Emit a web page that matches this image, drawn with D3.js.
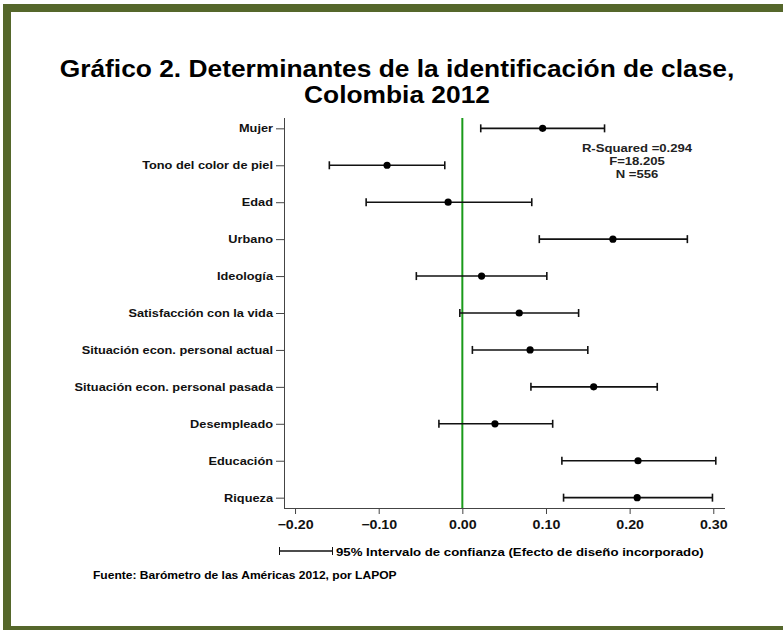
<!DOCTYPE html>
<html>
<head>
<meta charset="utf-8">
<script src="https://cdnjs.cloudflare.com/ajax/libs/d3/7.8.5/d3.min.js"></script>
<style>
  body { margin: 0; background: #fff; }
  svg { display: block; font-family: "Liberation Sans", Arial, sans-serif; }
</style>
</head>
<body>
<div id="grafico"></div>
<script>
var variables = ["Mujer", "Tono del color de piel", "Edad", "Urbano", "Ideología", "Satisfacción con la vida",
    "Situación econ. personal actual", "Situación econ. personal pasada", "Desempleado", "Educación", "Riqueza"]
var coeficientes = [0.096, -0.090, -0.017, 0.180, 0.023, 0.068, 0.081, 0.157, 0.039, 0.210, 0.209]
var limInf = [0.022, -0.159, -0.115, 0.092, -0.055, -0.003, 0.012, 0.082, -0.028, 0.119, 0.121]
var limSup = [0.170, -0.021, 0.083, 0.269, 0.101, 0.139, 0.150, 0.233, 0.108, 0.303, 0.299]
var ticksX = [-0.20, -0.10, 0.00, 0.10, 0.20, 0.30]
var estadisticos = ["R-Squared =0.294", "F=18.205", "N =556"]

var width = 783,
    height = 630;

// el grafico original tiene el texto algo ensanchado
function estirar(sel, sx) {
    sel.each(function () {
        var t = d3.select(this);
        var x0 = +t.attr("x") || 0;
        t.attr("transform", "translate(" + x0 + ",0) scale(" + sx + ",1) translate(" + (-x0) + ",0)");
    });
}

var svg = d3.select("#grafico").append("svg")
    .attr("width", width)
    .attr("height", height);

// marco verde oliva
svg.append("rect").attr("x", 3).attr("y", 4).attr("width", width - 3).attr("height", 8).attr("fill", "#55672b");
svg.append("rect").attr("x", 3).attr("y", 4).attr("width", 8).attr("height", height - 4).attr("fill", "#55672b");
svg.append("rect").attr("x", 3).attr("y", 626).attr("width", width - 3).attr("height", 4).attr("fill", "#55672b");

// titulo
var titulo = svg.append("g");
titulo.append("text")
    .attr("x", 397).attr("y", 77)
    .text("Gráfico 2. Determinantes de la identificación de clase,");
titulo.append("text")
    .attr("x", 397).attr("y", 103)
    .text("Colombia 2012");
titulo.selectAll("text")
    .attr("text-anchor", "middle")
    .style("font-size", "23px").style("font-weight", "bold")
    .call(estirar, 1.145);

var x = d3.scaleLinear()
    .domain([-0.212, 0.314])
    .range([285, 725]);

var y = d3.scalePoint()
    .domain(variables)
    .range([118, 508])
    .padding(0.28);

// ejes
var ejeX = svg.append("g")
    .attr("transform", "translate(0,508)")
    .call(d3.axisBottom(x).tickValues(ticksX).tickSize(6).tickSizeOuter(0).tickFormat(d3.format(".2f")));
ejeX.selectAll("text").style("font-size", "12.3px").style("font-weight", "bold").attr("fill", "#111").attr("dy", "1em")
    .call(estirar, 1.16);

var ejeY = svg.append("g")
    .attr("transform", "translate(284,0)")
    .call(d3.axisLeft(y).tickSize(8).tickSizeOuter(0));
ejeY.selectAll("text").style("font-size", "11px").style("font-weight", "bold").attr("fill", "#111").attr("x", -11)
    .call(estirar, 1.16);

svg.selectAll(".domain, .tick line").attr("stroke", "#444");
ejeX.select(".domain").attr("d", "M284,0.5H725");
ejeY.select(".domain").attr("d", "M0.5,118V508");

// linea del cero
svg.append("line")
    .attr("x1", x(0)).attr("x2", x(0))
    .attr("y1", 118).attr("y2", 508)
    .attr("stroke", "#1a9a1a").attr("stroke-width", 2);

// intervalos de confianza
var filas = svg.append("g").selectAll("g")
    .data(variables)
    .enter().append("g");

filas.append("line")
    .attr("x1", function (d, i) { return x(limInf[i]); })
    .attr("x2", function (d, i) { return x(limSup[i]); })
    .attr("y1", function (d) { return y(d); })
    .attr("y2", function (d) { return y(d); })
    .attr("stroke", "#111").attr("stroke-width", 1.6);

filas.selectAll(".cap")
    .data(function (d, i) { return [{ v: limInf[i], n: d }, { v: limSup[i], n: d }]; })
    .enter().append("line")
    .attr("class", "cap")
    .attr("x1", function (d) { return x(d.v); })
    .attr("x2", function (d) { return x(d.v); })
    .attr("y1", function (d) { return y(d.n) - 4; })
    .attr("y2", function (d) { return y(d.n) + 4; })
    .attr("stroke", "#111").attr("stroke-width", 1.6);

filas.append("circle")
    .attr("cx", function (d, i) { return x(coeficientes[i]); })
    .attr("cy", function (d) { return y(d); })
    .attr("r", 3.6)
    .attr("fill", "#000");

// estadisticos del modelo
svg.append("g").selectAll("text")
    .data(estadisticos)
    .enter().append("text")
    .attr("x", 637)
    .attr("y", function (d, i) { return 152 + i * 13; })
    .attr("text-anchor", "middle")
    .style("font-size", "11.3px").style("font-weight", "bold")
    .attr("fill", "#222")
    .text(function (d) { return d; })
    .call(estirar, 1.16);

// leyenda
var leyenda = svg.append("g").attr("transform", "translate(0,551)");
leyenda.append("line").attr("x1", 279).attr("x2", 333).attr("y1", 0).attr("y2", 0).attr("stroke", "#111").attr("stroke-width", 1.4);
leyenda.append("line").attr("x1", 279.5).attr("x2", 279.5).attr("y1", -4).attr("y2", 4).attr("stroke", "#111");
leyenda.append("line").attr("x1", 332.5).attr("x2", 332.5).attr("y1", -4).attr("y2", 4).attr("stroke", "#111");
leyenda.append("text")
    .attr("x", 336).attr("y", 4.5)
    .style("font-size", "11.4px").style("font-weight", "bold")
    .text("95% Intervalo de confianza (Efecto de diseño incorporado)")
    .call(estirar, 1.16);

svg.append("text")
    .attr("x", 93).attr("y", 579)
    .style("font-size", "10.4px").style("font-weight", "bold")
    .text("Fuente: Barómetro de las Américas 2012, por LAPOP")
    .call(estirar, 1.16);
</script>
</body>
</html>
